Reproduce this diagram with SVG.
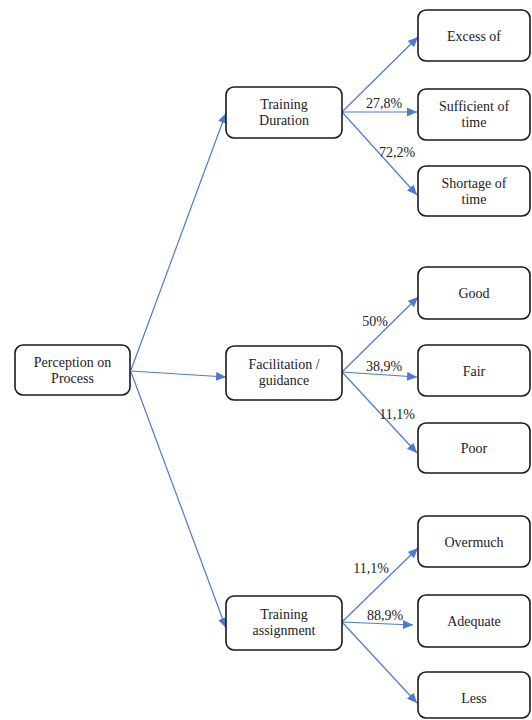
<svg xmlns="http://www.w3.org/2000/svg" width="532" height="720" viewBox="0 0 532 720" font-family="Liberation Serif, DejaVu Serif, serif">
<style>
.box{fill:#fff;stroke:#1a1a1a;stroke-width:1.6}
.t{font-size:14px;fill:#222;text-anchor:middle}
.e{stroke:#4a7bd0;stroke-width:1.2;fill:none}
</style>
<defs>
<marker id="ah" markerUnits="userSpaceOnUse" markerWidth="11" markerHeight="9" refX="10" refY="4.5" orient="auto">
<path d="M0,0 L10,4.5 L0,9 Z" fill="#4a7bd0"/>
</marker>
</defs>
<g id="connectors">
<line class="e" x1="131" y1="370" x2="226" y2="113" marker-end="url(#ah)"/>
<line class="e" x1="131" y1="371" x2="226" y2="377" marker-end="url(#ah)"/>
<line class="e" x1="131" y1="372" x2="226" y2="628" marker-end="url(#ah)"/>
<line class="e" x1="342" y1="112" x2="418" y2="37" marker-end="url(#ah)"/>
<line class="e" x1="342" y1="112" x2="417" y2="112" marker-end="url(#ah)"/>
<line class="e" x1="342" y1="112" x2="417" y2="195" marker-end="url(#ah)"/>
<line class="e" x1="342" y1="372" x2="418" y2="297" marker-end="url(#ah)"/>
<line class="e" x1="342" y1="372" x2="417" y2="377" marker-end="url(#ah)"/>
<line class="e" x1="342" y1="372" x2="417" y2="453" marker-end="url(#ah)"/>
<line class="e" x1="342" y1="622" x2="418" y2="548" marker-end="url(#ah)"/>
<line class="e" x1="342" y1="622" x2="413" y2="625" marker-end="url(#ah)"/>
<line class="e" x1="342" y1="622" x2="417" y2="703" marker-end="url(#ah)"/>
<text class="t" x="384" y="108">27,8%</text>
<text class="t" x="397" y="157">72,2%</text>
<text class="t" x="375" y="326">50%</text>
<text class="t" x="384" y="371">38,9%</text>
<text class="t" x="397" y="419">11,1%</text>
<text class="t" x="371" y="573">11,1%</text>
<text class="t" x="385" y="620">88,9%</text>
</g>
<g id="perception">
<rect class="box" x="15" y="345" width="115" height="50" rx="8"/>
<text class="t" x="72.5" y="367">Perception on</text>
<text class="t" x="72.5" y="383">Process</text>
</g>
<g id="training-duration">
<rect class="box" x="226" y="87" width="116" height="51" rx="8"/>
<text class="t" x="284" y="109">Training</text>
<text class="t" x="284" y="125">Duration</text>
</g>
<g id="facilitation">
<rect class="box" x="226" y="346" width="116" height="54" rx="8"/>
<text class="t" x="284" y="369">Facilitation /</text>
<text class="t" x="284" y="385">guidance</text>
</g>
<g id="training-assignment">
<rect class="box" x="226" y="596" width="116" height="54" rx="8"/>
<text class="t" x="284" y="619">Training</text>
<text class="t" x="284" y="635">assignment</text>
</g>
<g id="excess">
<rect class="box" x="418" y="10" width="112" height="51" rx="8"/>
<text class="t" x="474" y="41">Excess of</text>
</g>
<g id="sufficient">
<rect class="box" x="418" y="89" width="112" height="51" rx="8"/>
<text class="t" x="474" y="111">Sufficient of</text>
<text class="t" x="474" y="127">time</text>
</g>
<g id="shortage">
<rect class="box" x="418" y="166" width="112" height="50" rx="8"/>
<text class="t" x="474" y="188">Shortage of</text>
<text class="t" x="474" y="204">time</text>
</g>
<g id="good">
<rect class="box" x="418" y="267" width="112" height="52" rx="8"/>
<text class="t" x="474" y="298">Good</text>
</g>
<g id="fair">
<rect class="box" x="418" y="345" width="112" height="51" rx="8"/>
<text class="t" x="474" y="376">Fair</text>
</g>
<g id="poor">
<rect class="box" x="418" y="423" width="112" height="50" rx="8"/>
<text class="t" x="474" y="453">Poor</text>
</g>
<g id="overmuch">
<rect class="box" x="418" y="516" width="112" height="51" rx="8"/>
<text class="t" x="474" y="547">Overmuch</text>
</g>
<g id="adequate">
<rect class="box" x="418" y="595" width="112" height="52" rx="8"/>
<text class="t" x="474" y="626">Adequate</text>
</g>
<g id="less">
<rect class="box" x="418" y="672" width="112" height="46" rx="8"/>
<text class="t" x="474" y="703">Less</text>
</g>
</svg>
